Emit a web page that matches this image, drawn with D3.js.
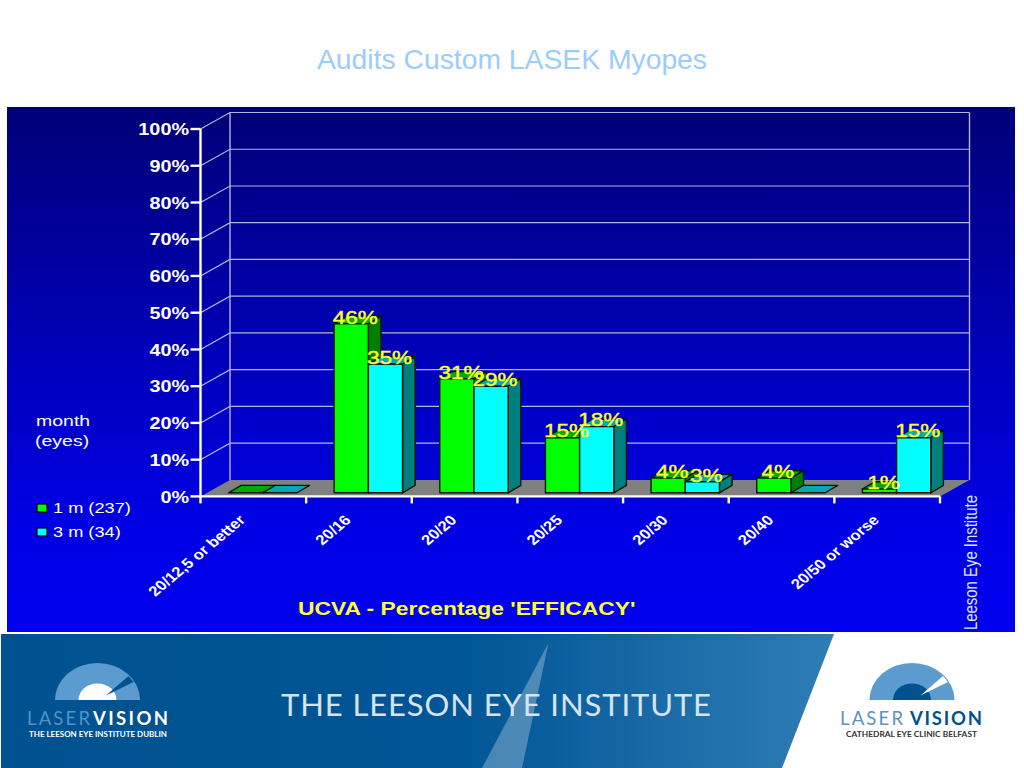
<!DOCTYPE html>
<html>
<head>
<meta charset="utf-8">
<style>
  html, body { margin: 0; padding: 0; background: #fff; }
  svg { display: block; }
  text { font-family: "Liberation Sans", Arial, sans-serif; }
  .footer-text { font-family: Lato, "Noto Sans", sans-serif; }
</style>
</head>
<body>
<svg id="chart" width="1024" height="768"></svg>
<script src="https://cdn.jsdelivr.net/npm/d3@7"></script>
<script>
var categories = ['20/12,5 or better', '20/16', '20/20', '20/25', '20/30', '20/40', '20/50 or worse'];
var oneMonth = [0, 46, 31, 15, 4, 4, 1];
var threeMonth = [0, 35, 29, 18, 3, 0, 15];
var yTicks = [0, 10, 20, 30, 40, 50, 60, 70, 80, 90, 100];
var seriesNames = ['1 m (237)', '3 m (34)'];

var stretch = 1.3;
var wallDx = 29.5, wallDy = -16.5;
var barWidth = 34.2, barOffset = 28;
var barFloorDy = -3.6;
var barDepthX = 12.6, barDepthY = -7.4;

var green = { front: '#00ff00', top: '#00aa00', side: '#007f00' };
var cyan = { front: '#00ffff', top: '#00aab4', side: '#007f80' };

var svg = d3.select('#chart');
var defs = svg.append('defs');

var panelGradient = defs.append('linearGradient')
  .attr('id', 'panelFill')
  .attr('x1', 0).attr('y1', 0).attr('x2', 0).attr('y2', 1);
panelGradient.append('stop').attr('offset', '0%').attr('stop-color', '#000078');
panelGradient.append('stop').attr('offset', '78%').attr('stop-color', '#0000e4');
panelGradient.append('stop').attr('offset', '100%').attr('stop-color', '#0000f0');

var footerGradient = defs.append('linearGradient')
  .attr('id', 'footerFill')
  .attr('x1', 0).attr('y1', 0).attr('x2', 1).attr('y2', 0);
footerGradient.append('stop').attr('offset', '0%').attr('stop-color', '#00518f');
footerGradient.append('stop').attr('offset', '55%').attr('stop-color', '#005596');
footerGradient.append('stop').attr('offset', '100%').attr('stop-color', '#2f7db5');

svg.append('text')
  .attr('x', 512).attr('y', 68.5)
  .attr('text-anchor', 'middle')
  .attr('font-size', 28.3)
  .attr('fill', '#99ccff')
  .text('Audits Custom LASEK Myopes');

svg.append('rect')
  .attr('x', 7).attr('y', 107)
  .attr('width', 1008).attr('height', 525)
  .attr('fill', 'url(#panelFill)');

var xScale = d3.scaleLinear().domain([0, categories.length]).range([200.5, 940]);
var yScale = d3.scaleLinear().domain([0, 100]).range([496.4, 129]);

function pts(list) {
  return list.map(function(p) { return p.join(','); }).join(' ');
}

// walls and floor
var wall = svg.append('g');

wall.append('polygon')
  .attr('points', pts([
    [xScale(0), yScale(0)],
    [xScale(0) + wallDx, yScale(0) + wallDy],
    [xScale(7) + wallDx, yScale(0) + wallDy],
    [xScale(7), yScale(0)]
  ]))
  .attr('fill', '#808080');

wall.selectAll('.grid')
  .data(yTicks.slice(1))
  .enter()
  .append('polyline')
  .classed('grid', true)
  .attr('points', function(d) {
    return pts([
      [xScale(0), yScale(d)],
      [xScale(0) + wallDx, yScale(d) + wallDy],
      [xScale(7) + wallDx, yScale(d) + wallDy]
    ]);
  })
  .attr('fill', 'none')
  .attr('stroke', '#b4b4dc')
  .attr('stroke-width', 1.2);

[0, 7].forEach(function(i) {
  wall.append('line')
    .attr('x1', xScale(i) + wallDx).attr('x2', xScale(i) + wallDx)
    .attr('y1', yScale(0) + wallDy).attr('y2', yScale(100) + wallDy)
    .attr('stroke', '#b4b4dc')
    .attr('stroke-width', 1.4);
});

// axes
var yAxis = svg.append('g')
  .attr('transform', 'translate(' + xScale(0) + ',0)')
  .call(d3.axisLeft(yScale)
    .tickValues(yTicks)
    .tickSize(10)
    .tickSizeOuter(0)
    .offset(0)
    .tickFormat(function(d) { return d + '%'; }));

yAxis.selectAll('path, line').attr('stroke', '#fff').attr('stroke-width', 2.4);
yAxis.selectAll('text')
  .attr('x', 0).attr('dy', null).attr('y', 6.2)
  .attr('transform', 'translate(-11.5,0) scale(1.2,1)')
  .attr('fill', '#fff')
  .attr('font-family', '"Liberation Sans", Arial, sans-serif')
  .attr('font-weight', 'bold')
  .attr('font-size', 16.5);

var xAxis = svg.append('g')
  .attr('transform', 'translate(0,' + yScale(0) + ')')
  .call(d3.axisBottom(xScale)
    .tickValues(d3.range(0, categories.length + 1))
    .tickSize(7)
    .tickSizeOuter(0)
    .offset(0)
    .tickFormat(''));

xAxis.selectAll('path, line').attr('stroke', '#fff').attr('stroke-width', 2.4);

svg.selectAll('.category')
  .data(categories)
  .enter()
  .append('text')
  .classed('category', true)
  .attr('text-anchor', 'end')
  .attr('transform', function(d, i) {
    return 'translate(' + (xScale(i + 0.5) - 7) + ',521) scale(1.2,1) rotate(-45)';
  })
  .attr('fill', '#fff')
  .attr('font-weight', 'bold')
  .attr('font-size', 14)
  .text(function(d) { return d; });

// bars
function barX(i, s) {
  return xScale(i) + barOffset + s * barWidth;
}

function drawBar(i, s, value, colors) {
  var x = barX(i, s);
  var base = yScale(0) + barFloorDy;
  var top = yScale(value) + barFloorDy;
  var g = svg.append('g')
    .attr('stroke', '#001a00')
    .attr('stroke-width', 1.4)
    .attr('stroke-linejoin', 'round');

  g.append('polygon')
    .attr('points', pts([
      [x, top],
      [x + barDepthX, top + barDepthY],
      [x + barWidth + barDepthX, top + barDepthY],
      [x + barWidth, top]
    ]))
    .attr('fill', colors.top);

  if (value > 0) {
    g.append('polygon')
      .attr('points', pts([
        [x + barWidth, top],
        [x + barWidth + barDepthX, top + barDepthY],
        [x + barWidth + barDepthX, base + barDepthY],
        [x + barWidth, base]
      ]))
      .attr('fill', colors.side);

    g.append('rect')
      .attr('x', x).attr('y', top)
      .attr('width', barWidth).attr('height', base - top)
      .attr('fill', colors.front);
  }
}

categories.forEach(function(c, i) {
  drawBar(i, 0, oneMonth[i], green);
  drawBar(i, 1, threeMonth[i], cyan);
});

// value labels go on top of every bar
function valueLabel(i, s, value) {
  if (!value) return;
  var x = barX(i, s) + barWidth / 2 + 4;
  var y = yScale(value) + barFloorDy - 0.2;
  svg.append('text')
    .attr('transform', 'translate(' + x + ',' + y + ') scale(1.25,1)')
    .attr('text-anchor', 'middle')
    .attr('font-size', 18)
    .attr('fill', '#ffff33')
    .attr('stroke', '#ffff33')
    .attr('stroke-width', 0.4)
    .text(value + '%');
}

categories.forEach(function(c, i) {
  valueLabel(i, 0, oneMonth[i]);
  valueLabel(i, 1, threeMonth[i]);
});

// legend
function stretchedText(x, y, size, txt, fill, weight) {
  return svg.append('text')
    .attr('transform', 'translate(' + x + ',' + y + ') scale(' + stretch + ',1)')
    .attr('font-size', size)
    .attr('font-weight', weight || 'normal')
    .attr('fill', fill)
    .text(txt);
}

stretchedText(36, 426, 15, 'month', '#fff');
stretchedText(35, 446, 15, '(eyes)', '#fff');

[green, cyan].forEach(function(colors, i) {
  var y = 504 + i * 24;
  svg.append('rect')
    .attr('x', 37).attr('y', y)
    .attr('width', 10).attr('height', 8)
    .attr('fill', colors.front)
    .attr('stroke', '#000')
    .attr('stroke-width', 1.2);
  stretchedText(53, y + 9, 14, seriesNames[i], '#fff');
});

stretchedText(298, 615, 17.6, "UCVA - Percentage 'EFFICACY'", '#ffff33', 'bold');

svg.append('text')
  .attr('transform', 'translate(977,630) rotate(-90)')
  .attr('font-size', 18)
  .attr('textLength', 135)
  .attr('lengthAdjust', 'spacingAndGlyphs')
  .attr('fill', '#dde6ff')
  .text('Leeson Eye Institute');

// footer banner
svg.append('polygon')
  .attr('points', '1,634 834,634 782,768 1,768')
  .attr('fill', 'url(#footerFill)');

svg.append('polygon')
  .attr('points', '548.5,643 522,768 482,768')
  .attr('fill', '#fff')
  .attr('opacity', 0.28);

function footerText(x, y, size, length, txt, fill, weight, adjust) {
  svg.append('text')
    .classed('footer-text', true)
    .attr('x', x).attr('y', y)
    .attr('font-size', size)
    .attr('font-weight', weight || 'normal')
    .attr('textLength', length)
    .attr('lengthAdjust', adjust || 'spacingAndGlyphs')
    .attr('fill', fill)
    .text(txt);
}

footerText(281, 716, 31, 430, 'THE LEESON EYE INSTITUTE', '#d6e4f0', 400, 'spacing');

function drawLogo(cx, outer, inner, cut, laser, vision, subFill, sub, subX, subLength, textX, visionX, visionLength) {
  var g = svg.append('g').attr('transform', 'translate(' + cx + ',700) scale(1,0.87)');
  var arc = d3.arc();
  g.append('path')
    .attr('d', arc({ innerRadius: 0, outerRadius: 42.5, startAngle: -Math.PI / 2, endAngle: Math.PI / 2 }))
    .attr('fill', outer);
  g.append('path')
    .attr('d', arc({ innerRadius: 0, outerRadius: 19, startAngle: -Math.PI / 2, endAngle: Math.PI / 2 }))
    .attr('fill', inner);
  svg.append('polygon')
    .attr('points', pts([[cx + 8.5, 695.5], [cx + 31, 676], [cx + 36, 682]]))
    .attr('fill', cut);
  footerText(textX, 725, 18.5, 63, 'LASER', laser, 400, 'spacing');
  footerText(visionX, 725, 18.5, visionLength, 'VISION', vision, 'bold', 'spacing');
  footerText(subX, 737, 7, subLength, sub, subFill, 'bold');
}

drawLogo(97.5, '#5b9bd0', '#ffffff', '#00518f', '#4f94c8', '#ffffff', '#ffffff',
  'THE LEESON EYE INSTITUTE DUBLIN', 29, 138, 27, 93, 75);
drawLogo(912, '#5b9bd0', '#00518f', '#ffffff', '#5b93bd', '#00518f', '#333333',
  'CATHEDRAL EYE CLINIC BELFAST', 846, 131, 840, 910, 72);
</script>
</body>
</html>
